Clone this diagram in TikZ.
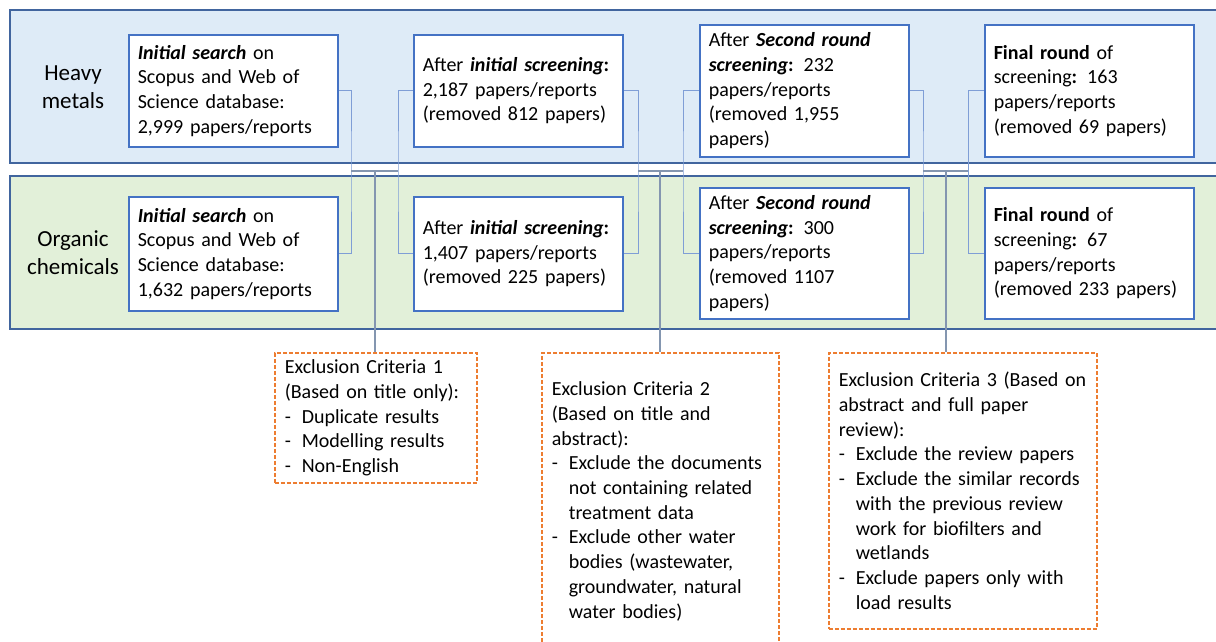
\documentclass[tikz,border=0pt]{standalone}
\usepackage{fontspec}
\setmainfont{Carlito}
\definecolor{hmfill}{HTML}{DEEBF7}
\definecolor{ocfill}{HTML}{E2F0D9}
\definecolor{bandline}{HTML}{41659E}
\definecolor{boxblue}{HTML}{4472C4}
\definecolor{connblue}{HTML}{7F9ED6}
\definecolor{junc}{HTML}{8496B0}
\definecolor{exorange}{HTML}{ED7D31}
\newcommand{\bi}[1]{\textbf{\textit{#1}}}
\newcommand{\dsh}{\makebox[17pt][l]{-}}
\newcommand{\ind}{\hspace*{17pt}}
\tikzset{
  band/.style={draw=bandline, line width=1.3pt},
  bandlabel/.style={align=center, font=\fontsize{23}{28}\selectfont},
  box/.style={draw=boxblue, line width=1.6pt, fill=white, anchor=north west,
    align=left, inner xsep=9pt, inner ysep=0pt, text width=191pt,
    font=\fontsize{20}{24.7}\selectfont},
  exbox/.style={draw=exorange, line width=1.6pt, dash pattern=on 4pt off 2pt,
    fill=white, anchor=north west, align=left, inner xsep=10pt, inner ysep=0pt,
    font=\fontsize{20}{24.7}\selectfont},
  conn/.style={draw=connblue, line width=0.9pt},
  jconn/.style={draw=junc, line width=1.1pt}
}
\begin{document}
\begin{tikzpicture}[x=1pt,y=-1pt]
\useasboundingbox (0,0) rectangle (1216,642);
\clip (0,0) rectangle (1216,642);
% bands
\draw[band, fill=hmfill] (10,10) rectangle (1230,163);
\draw[band, fill=ocfill] (10,176) rectangle (1230,329);
\node[bandlabel] (lh) at (73,87) {Heavy\\metals};
\node[bandlabel] (lo) at (73,253) {Organic\\chemicals};
% heavy metal boxes
\node[box, minimum height=112pt] (h1) at (128,34)
  {\bi{Initial search} on\\Scopus and Web of\\Science database:\\2,999 papers/reports};
\node[box, minimum height=112pt] (h2) at (413,34)
  {After \bi{initial screening}\textbf{:}\\2,187 papers/reports\\(removed 812 papers)};
\node[box, minimum height=132pt] (h3) at (699,24)
  {After \bi{Second round}\\\bi{screening}\textbf{:} 232\\papers/reports\\(removed 1,955\\papers)};
\node[box, minimum height=132pt] (h4) at (984,24)
  {\textbf{Final round} of\\screening\textbf{:} 163\\papers/reports\\(removed 69 papers)};
% organic boxes
\node[box, minimum height=114pt] (o1) at (128,196)
  {\bi{Initial search} on\\Scopus and Web of\\Science database:\\1,632 papers/reports};
\node[box, minimum height=114pt] (o2) at (413,196)
  {After \bi{initial screening}\textbf{:}\\1,407 papers/reports\\(removed 225 papers)};
\node[box, minimum height=131pt] (o3) at (699,187)
  {After \bi{Second round}\\\bi{screening}\textbf{:} 300\\papers/reports\\(removed 1107\\papers)};
\node[box, minimum height=131pt] (o4) at (984,187)
  {\textbf{Final round} of\\screening\textbf{:} 67\\papers/reports\\(removed 233 papers)};
% exclusion boxes
\node[exbox, text width=182pt, minimum height=130pt] (e1) at (274,352)
  {Exclusion Criteria 1\\(Based on title only):\\\dsh Duplicate results\\\dsh Modelling results\\\dsh Non-English};
\node[exbox, text width=217pt, minimum height=297pt] (e2) at (541,352)
  {Exclusion Criteria 2\\(Based on title and\\abstract):\\\dsh Exclude the documents\\\ind not containing related\\\ind treatment data\\\dsh Exclude other water\\\ind bodies (wastewater,\\\ind groundwater, natural\\\ind water bodies)};
\node[exbox, text width=248pt, minimum height=276pt] (e3) at (828,352)
  {Exclusion Criteria 3 (Based on\\abstract and full paper\\review):\\\dsh Exclude the review papers\\\dsh Exclude the similar records\\\ind with the previous review\\\ind work for biofilters and\\\ind wetlands\\\dsh Exclude papers only with\\\ind load results};
% connectors stage 1
\coordinate (a1) at (351,171);
\coordinate (b1) at (398,171);
\coordinate (j1) at (375,171);
\draw[conn] (h1.east) -| (a1) |- (o1.east);
\draw[conn] (h2.west) -| (b1) |- (o2.west);
\draw[jconn] (a1) -- (b1);
\draw[jconn] (j1) -- (e1.north -| j1);
% connectors stage 2
\coordinate (a2) at (638,171);
\coordinate (b2) at (683,171);
\coordinate (j2) at (660,171);
\draw[conn] (h2.east) -| (a2) |- (o2.east);
\draw[conn] (h3.west) -| (b2) |- (o3.west);
\draw[jconn] (a2) -- (b2);
\draw[jconn] (j2) -- (e2.north -| j2);
% connectors stage 3
\coordinate (a3) at (923,171);
\coordinate (b3) at (968,171);
\coordinate (j3) at (946,171);
\draw[conn] (h3.east) -| (a3) |- (o3.east);
\draw[conn] (h4.west) -| (b3) |- (o4.west);
\draw[jconn] (a3) -- (b3);
\draw[jconn] (j3) -- (e3.north -| j3);
\end{tikzpicture}
\end{document}
